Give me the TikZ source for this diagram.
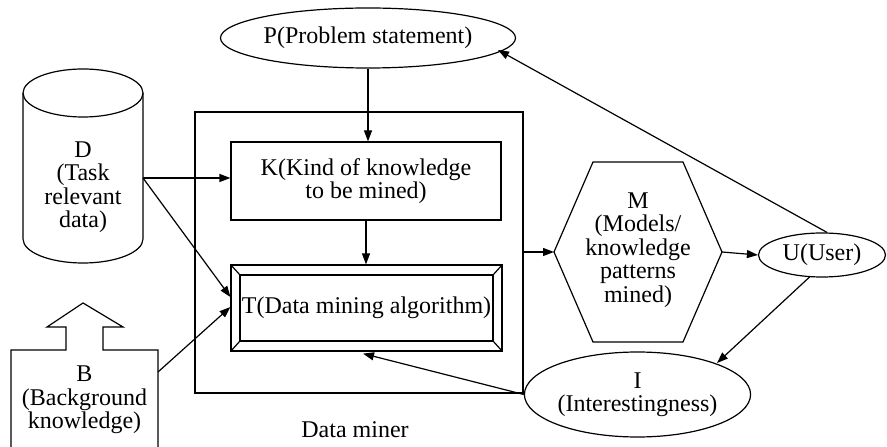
\documentclass[tikz,border=0pt]{standalone}
\usepackage{fontspec}
\setmainfont{Liberation Serif}
\usetikzlibrary{arrows.meta,calc,shapes.geometric}
\begin{document}
\begin{tikzpicture}[x=1pt,y=1pt,
  every node/.style={font=\fontsize{24}{23.5}\selectfont, align=center, inner sep=0pt},
  ln/.style={line width=1.2pt},
  arr/.style={ln, -{Triangle[length=11pt,width=8pt]}},
  boxk/.style={ln, draw, rectangle}
]
\useasboundingbox (0,0) rectangle (887,447);
% Cylinder D
\draw[ln] (23,354) -- (23,208) arc[start angle=180,end angle=360,x radius=60,y radius=24] -- (143,354);
\draw[ln] (83,354) ellipse[x radius=60,y radius=24];
\node (D) at (83,260) {D\\(Task\\relevant\\data)};
\coordinate (Dout) at (143,269);
% Data miner box
\draw[ln] (195,54) rectangle (523,335);
\node[anchor=base] (DM) at (355,9) {Data miner};
% K box
\node[boxk, minimum width=270pt, minimum height=78pt] (K) at (366,266) {K(Kind of knowledge\\to be mined)};
% T box
\node[ln, draw, minimum width=271pt, minimum height=86pt] (T) at (366.5,139) {};
\draw[ln] (240,106) rectangle (493,172);
\draw[ln] (T.north west) -- (240,172) (T.north east) -- (493,172)
          (T.south west) -- (240,106) (T.south east) -- (493,106);
\node at (T.center) {T(Data mining algorithm)};
% P ellipse
\node[ln, draw, ellipse, minimum width=268pt, minimum height=60pt] (P) at (368,409) {P(Problem statement)};
\coordinate (Ptip) at (498,397);
% M hexagon
\coordinate (Mw) at (554,195);
\coordinate (Me) at (722,195);
\draw[ln] (Mw) -- (593,285) -- (683,285) -- (Me) -- (683,105) -- (593,105) -- cycle;
\node (M) at (638,197) {M\\(Models/\\knowledge\\patterns\\mined)};
% U ellipse
\node[ln, draw, ellipse, minimum width=127pt, minimum height=44pt] (U) at (822,192) {U(User)};
% I ellipse
\node[ln, draw, ellipse, minimum width=209pt, minimum height=85pt] (I) at (637.5,52.5) {I\\(Interestingness)};
% B
\draw[ln] (11,-5) -- (11,97) -- (66,97) -- (66,120) -- (47,120) -- (83,144) -- (123,120) -- (103,120) -- (103,97) -- (158,97) -- (158,-5);
\node (B) at (84.5,47) {B\\(Background\\knowledge)};
\coordinate (Bout) at (158,75);
\coordinate (Mbox) at (523,195);
\coordinate (Itip) at (717,84);
% connectors
\draw[arr] (P.south) -- (P.south |- K.north);
\draw[arr] (K.south) -- (K.south |- T.north);
\draw[arr] (Dout) -- (Dout -| K.west);
\draw[arr] (Dout) -- ($(T.west)+(0,11)$);
\draw[arr] (Bout) -- ($(T.west)+(0,1)$);
\draw[arr] (Mbox) -- (Mw);
\draw[arr] (Me) -- (U.west);
\draw[arr] ($(U.north)+(5,0)$) -- (Ptip);
\draw[arr] ($(U.south)+(-12,1)$) -- (Itip);
\draw[arr] (I.west) -- ($(T.south)+(-3.5,-2)$);
\end{tikzpicture}
\end{document}
